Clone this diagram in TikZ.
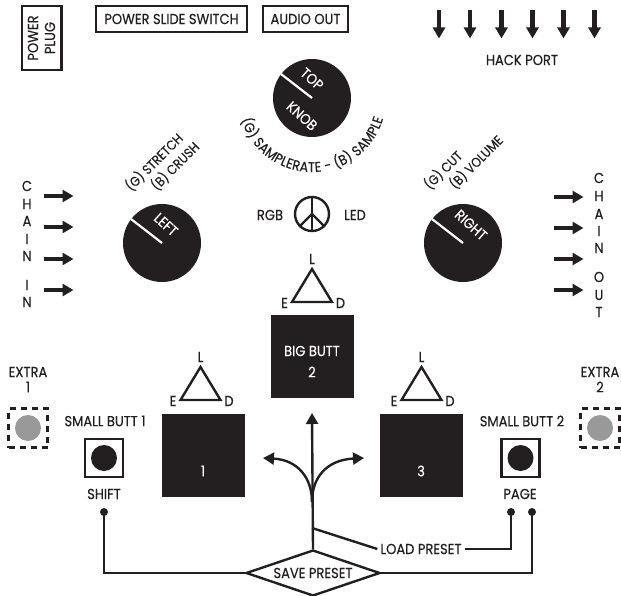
\documentclass[tikz,border=0pt]{standalone}
\usepackage{fontspec}
\setmainfont[FakeStretch=0.9,FakeBold=0.35]{Poppins}
\newfontfamily\curvefont[FakeStretch=0.9,FakeBold=0.35]{Poppins}
\usetikzlibrary{arrows.meta,shapes.geometric,decorations.text}
\definecolor{ink}{HTML}{231F20}
\definecolor{pad}{HTML}{999999}
\tikzset{
  x=1pt,y=-1pt,
  lab/.style={font=\fontsize{14.5}{16}\selectfont,text=ink,inner sep=0pt,align=center},
  slantlab/.style={lab,font=\fontsize{13.3}{15}\selectfont,rotate=45},
  wlab/.style={lab,text=white},
  labelbox/.style={draw=ink,line width=2.5pt,inner sep=0pt,lab},
  blackbox/.style={fill=ink,draw=none,minimum width=83pt,minimum height=83pt,inner sep=0pt},
  knob/.style={circle,fill=ink,minimum size=78pt,inner sep=0pt},
  ledtri/.style={draw=ink,line width=2.4pt,line join=miter},
  wire/.style={draw=ink,line width=2.4pt},
  knobline/.style={draw=white,line width=2.2pt},
  bigarrow/.style={draw=ink,line width=4.4pt,-{Triangle[length=11pt,width=12pt]}},
  tiparrow/.style={draw=ink,line width=2.4pt,-{Triangle[length=11pt,width=12pt]}},
  pushbtn/.style={draw=ink,line width=2.4pt,minimum size=38pt,inner sep=0pt},
  btncap/.style={circle,fill=ink,minimum size=26pt,inner sep=0pt},
  extrabox/.style={draw=ink,line width=2.6pt,dash pattern=on 6pt off 5pt,minimum size=39pt,inner sep=0pt},
  extracap/.style={circle,fill=pad,minimum size=26pt,inner sep=0pt},
  termdot/.style={circle,fill=ink,minimum size=8pt,inner sep=0pt},
}
\begin{document}
\begin{tikzpicture}
\useasboundingbox (0,0) rectangle (621,596);
% top boxes
\node[labelbox,minimum width=64pt,minimum height=39.5pt,rotate=90] (plug) at (41.5,38) {};
\node[lab,rotate=90,font=\fontsize{14.5}{17}\selectfont] (plugtxt) at (41.5,38) {POWER\\PLUG};
\node[labelbox,minimum width=151pt,minimum height=26pt] (slide) at (171.5,19) {POWER SLIDE SWITCH};
\node[labelbox,minimum width=85pt,minimum height=26pt] (audio) at (305.5,19) {AUDIO OUT};
% hack port
\foreach \i/\hx in {1/439,2/470,3/501.5,4/532.5,5/563.5,6/594.5}{
  \coordinate (hs\i) at (\hx,10);
  \coordinate (he\i) at (\hx,38.5);
  \draw[bigarrow] (hs\i) -- (he\i);
}
\node[lab] (hack) at (522,60) {HACK PORT};
% chain in
\foreach \t/\yy/\n in {C/186/a,H/204/b,A/221/c,I/239/d,N/256/e,I/285/f,N/302/g}{
  \node[lab] (ci\n) at (27,\yy) {\t};
}
\foreach \i/\yy in {1/196,2/227,3/259,4/290}{
  \coordinate (cis\i) at (44,\yy);
  \coordinate (cie\i) at (73.5,\yy);
  \draw[bigarrow] (cis\i) -- (cie\i);
}
% chain out
\foreach \t/\yy/\n in {C/178/a,H/196/b,A/214/c,I/231/d,N/248/e,O/277/f,U/295/g,T/312/h}{
  \node[lab] (co\n) at (599,\yy) {\t};
}
\foreach \i/\yy in {1/197,2/228,3/259,4/290}{
  \coordinate (cos\i) at (554,\yy);
  \coordinate (coe\i) at (583.5,\yy);
  \draw[bigarrow] (cos\i) -- (coe\i);
}
% knobs
\node[knob] (top) at (312,98) {};
\coordinate (topm) at (281,74);
\draw[knobline] (topm) -- (top.center);
\node[wlab,rotate=-42] (toptxt) at (312,79) {TOP};
\node[wlab,rotate=-42] (knobtxt) at (302,116) {KNOB};
\node[knob] (left) at (162,243) {};
\coordinate (leftm) at (131,219);
\draw[knobline] (leftm) -- (left.center);
\node[wlab,rotate=-42] (lefttxt) at (166,224.5) {LEFT};
\node[knob] (right) at (463,243) {};
\coordinate (rightm) at (432,219);
\draw[knobline] (rightm) -- (right.center);
\node[wlab,rotate=-42] (righttxt) at (471,225) {RIGHT};
% knob labels
\node[slantlab] (gstretch) at (154,162) {(G) STRETCH};
\node[slantlab] (bcrush) at (175,166) {(B) CRUSH};
\node[slantlab] (gcut) at (443,170) {(G) CUT};
\node[slantlab] (bvol) at (476,162) {(B) VOLUME};
\begin{scope}[y=1pt]
\path[decorate,decoration={text along path,text align={fit to path},
  text={|\curvefont\fontsize{14}{14}\selectfont\color{ink}|(G) SAMPLERATE - (B) SAMPLE}}]
  (312,-98) ++(197:74) arc[start angle=197,end angle=344,radius=74];
\end{scope}
% peace
\node[circle,draw=ink,line width=2.4pt,minimum size=34pt,inner sep=0pt] (peace) at (312,214) {};
\draw[wire] (peace.north) -- (peace.south);
\draw[wire] (peace.center) -- (peace.-135);
\draw[wire] (peace.center) -- (peace.-45);
\node[lab] (rgb) at (270,215) {RGB};
\node[lab] (led) at (355,215) {LED};
% triangles
\foreach \n/\cx/\ty in {a/312/269,b/200.5/367,c/421.5/367}{
  \coordinate (t\n1) at (\cx,\ty);
  \coordinate (t\n2) at (\cx-20,\ty+33);
  \coordinate (t\n3) at (\cx+20,\ty+33);
  \draw[ledtri] (t\n1) -- (t\n2) -- (t\n3) -- cycle;
  \node[lab] (l\n) at (\cx,\ty-10) {L};
  \node[lab] (e\n) at (\cx-27.5,\ty+34) {E};
  \node[lab] (d\n) at (\cx+28.5,\ty+34) {D};
}
% big buttons
\node[blackbox] (big) at (312.5,356.5) {};
\node[wlab] (bigt) at (312,351) {BIG BUTT};
\node[wlab] (bign) at (312,372) {2};
\node[blackbox] (b1) at (203.5,455) {};
\node[wlab] (b1n) at (203,471) {1};
\node[blackbox] (b3) at (421.5,455) {};
\node[wlab] (b3n) at (421,471) {3};
% extras
\node[lab] (ex1a) at (28,372) {EXTRA};
\node[lab] (ex1b) at (28,387) {1};
\node[extracap] (ex1c) at (28,428) {};
\node[extrabox] (ex1) at (28,428) {};
\node[lab] (ex2a) at (600,372) {EXTRA};
\node[lab] (ex2b) at (600,387) {2};
\node[extracap] (ex2c) at (600,428) {};
\node[extrabox] (ex2) at (600,428) {};
% small buttons
\node[lab] (sb1) at (105,421) {SMALL BUTT 1};
\node[pushbtn] (p1) at (104,458) {};
\node[btncap] (p1c) at (104,458) {};
\node[lab] (shift) at (104,494) {SHIFT};
\node[termdot] (d1) at (104,512) {};
\node[lab] (sb2) at (522,421) {SMALL BUTT 2};
\node[pushbtn] (p2) at (520.5,458) {};
\node[btncap] (p2c) at (520.5,458) {};
\node[lab] (page) at (520,494) {PAGE};
\node[termdot] (d2) at (511,512) {};
\node[termdot] (d3) at (532,512) {};
% preset
\node[diamond,draw=ink,line width=2.4pt,fill=white,minimum width=134pt,minimum height=46pt,inner sep=0pt,aspect=2.9,lab] (save) at (313,573) {SAVE PRESET};
\node[lab,inner sep=3pt] (load) at (421,549) {LOAD PRESET};
\coordinate (stemtop) at (312,413);
\coordinate (stemjoin) at (312,528);
\coordinate (curvebase) at (312,502);
\coordinate (tipl) at (263,458);
\coordinate (tipr) at (364,458);
\draw[wire] (d1.center) |- (save.west);
\draw[wire] (d3.center) |- (save.east);
\draw[wire] (d2.center) |- (load.east);
\draw[wire] (load.west) -- (stemjoin);
\draw[tiparrow] (save.north) -- (stemtop);
\draw[tiparrow] (curvebase) .. controls (312,478) and (298,460) .. (tipl);
\draw[tiparrow] (curvebase) .. controls (312,478) and (326,460) .. (tipr);
\end{tikzpicture}
\end{document}
